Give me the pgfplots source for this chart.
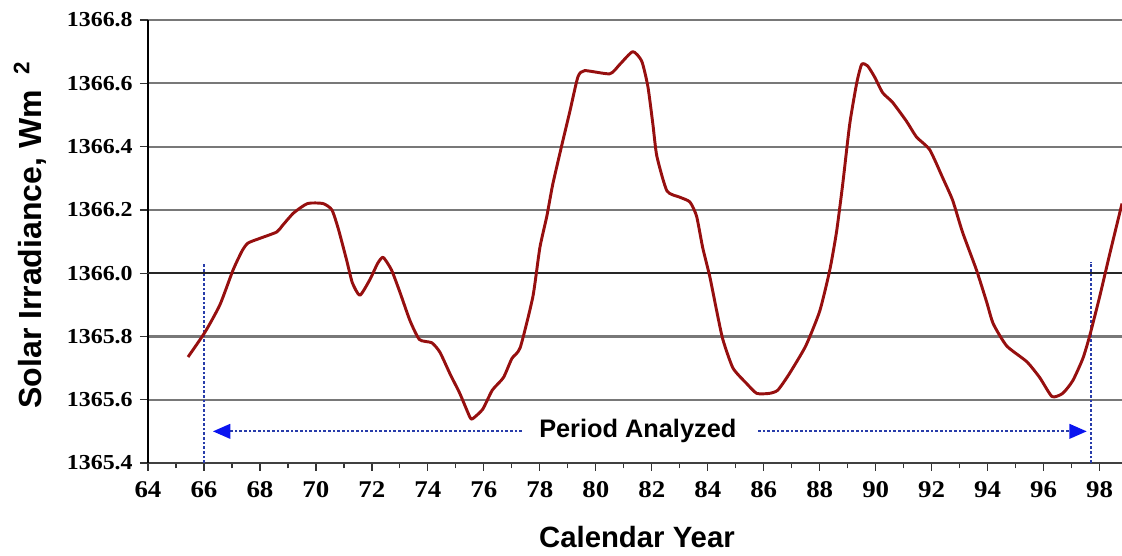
\documentclass[border=0pt]{standalone}
\usepackage{pgfplots}
\pgfplotsset{compat=1.18}
\usetikzlibrary{arrows.meta}
\usepackage{fontspec}
\setmainfont{Liberation Serif}
\newfontfamily\arial{Liberation Sans}
\newfontfamily\tickfont[FakeStretch=1.12]{Liberation Serif}

\definecolor{curve}{RGB}{150,15,15}
\definecolor{gridgray}{RGB}{120,120,120}
\definecolor{dotblue}{RGB}{40,60,170}
\definecolor{tipblue}{RGB}{10,20,240}

\pgfplotstableread{
year  tsi
65.43 1365.735
66.04 1365.814
66.57 1365.900
67.04 1366.010
67.36 1366.070
67.57 1366.095
68.00 1366.110
68.60 1366.130
68.80 1366.150
69.20 1366.190
69.70 1366.220
70.25 1366.220
70.57 1366.200
70.80 1366.140
71.10 1366.040
71.30 1365.970
71.57 1365.930
71.93 1365.980
72.20 1366.030
72.40 1366.050
72.70 1366.010
73.00 1365.940
73.36 1365.850
73.70 1365.790
74.14 1365.780
74.43 1365.750
74.80 1365.680
75.14 1365.620
75.50 1365.545
75.60 1365.540
75.96 1365.570
76.30 1365.630
76.70 1365.670
77.00 1365.730
77.30 1365.765
77.75 1365.925
78.00 1366.080
78.25 1366.180
78.46 1366.280
78.80 1366.410
79.07 1366.510
79.36 1366.620
79.60 1366.640
80.50 1366.630
80.86 1366.660
81.32 1366.700
81.64 1366.670
81.86 1366.590
82.04 1366.470
82.18 1366.370
82.54 1366.260
83.00 1366.240
83.36 1366.225
83.60 1366.180
83.82 1366.080
84.07 1365.990
84.32 1365.880
84.54 1365.790
84.90 1365.700
85.40 1365.650
85.75 1365.620
86.20 1365.620
86.50 1365.630
86.90 1365.680
87.50 1365.770
88.00 1365.880
88.36 1366.010
88.60 1366.130
88.82 1366.280
89.07 1366.470
89.32 1366.600
89.50 1366.660
89.71 1366.655
89.96 1366.620
90.25 1366.570
90.60 1366.540
91.10 1366.480
91.46 1366.430
91.93 1366.390
92.40 1366.300
92.75 1366.230
93.10 1366.130
93.60 1366.010
93.96 1365.910
94.20 1365.840
94.68 1365.770
95.40 1365.720
95.86 1365.670
96.30 1365.610
96.68 1365.620
97.04 1365.660
97.40 1365.730
97.64 1365.800
98.00 1365.925
98.36 1366.060
98.80 1366.220
}\tsidata

\begin{document}
\begin{tikzpicture}
  \begin{axis}[
      scale only axis,
      width=730.5pt, height=332.25pt,
      xmin=64, xmax=98.8,
      ymin=1365.4, ymax=1366.8,
      xtick={64,66,...,98},
      minor x tick num=1,
      ytick={1365.4,1365.6,...,1366.81},
      separate axis lines,
      axis x line*=bottom, axis y line*=left,
      x axis line style={black!75, line width=1.8pt},
      y axis line style={black, line width=2.2pt},
      tick align=outside,
      major tick length=6pt, minor tick length=4pt,
      tick style={black!80, line width=0.9pt},
      ymajorgrids,
      grid style={gridgray, line width=1.6pt},
      extra y ticks={1366.0},
      extra y tick labels={},
      extra y tick style={grid style={black!85, line width=2pt}},
      /pgf/number format/assume math mode=true,
      y tick label style={font=\tickfont\bfseries\fontsize{16}{16}\selectfont, xshift=-2pt,
        /pgf/number format/.cd, fixed, fixed zerofill, precision=1, 1000 sep={}},
      x tick label style={font=\tickfont\bfseries\fontsize{18}{18}\selectfont, yshift=-4.5pt},
      xlabel={Calendar Year},
      ylabel={Solar Irradiance, Wm\hspace{0.5em}\textsuperscript{2}},
      every axis x label/.style={at={(axis description cs:0.502,-0.167)}, anchor=center,
        font=\arial\bfseries\fontsize{22}{22}\selectfont},
      every axis y label/.style={at={(axis description cs:-0.121,0.515)}, rotate=90, anchor=center,
        font=\arial\bfseries\fontsize{24}{24}\selectfont},
    ]
    % period analyzed markers
    \addplot[dotblue, line width=1.4pt, dash pattern=on 2pt off 1.5pt] coordinates {(66,1365.4) (66,1366.03)};
    \addplot[dotblue, line width=1.4pt, dash pattern=on 2pt off 1.5pt] coordinates {(97.68,1365.4) (97.68,1366.035)};
    \addplot[dotblue, line width=1.4pt, dash pattern=on 2pt off 1.5pt,
      -{Triangle[length=13pt,width=11pt,color=tipblue]}] coordinates {(77.36,1365.5) (66.32,1365.5)};
    \addplot[dotblue, line width=1.4pt, dash pattern=on 2pt off 1.5pt,
      -{Triangle[length=13pt,width=11pt,color=tipblue]}] coordinates {(85.8,1365.5) (97.54,1365.5)};
    \node[font=\arial\bfseries\fontsize{19}{19}\selectfont] at (axis cs:81.5,1365.5) {Period Analyzed};
    % irradiance curve
    \addplot[curve, line width=2.2pt, line join=round, smooth, tension=0.35] table[x=year, y=tsi] {\tsidata};
  \end{axis}
  \pgfresetboundingbox
  \path ([xshift=-111pt,yshift=-69.75pt]current axis.south west) rectangle ([yshift=15pt]current axis.north east);
\end{tikzpicture}
\end{document}
